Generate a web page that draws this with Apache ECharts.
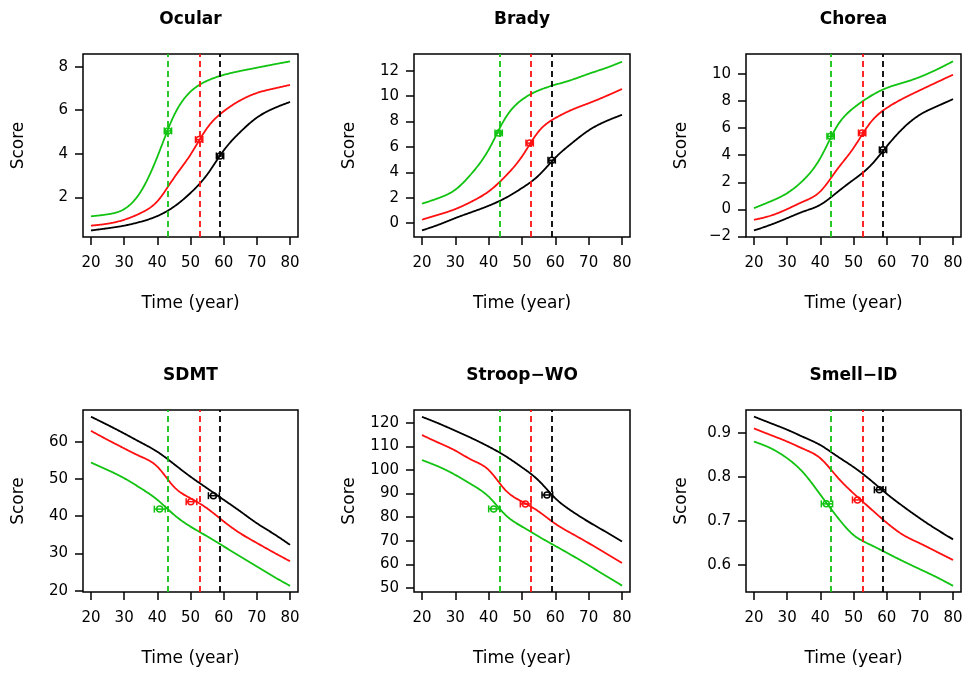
<!DOCTYPE html>
<html>
<head>
<meta charset="utf-8">
<script src="https://cdn.jsdelivr.net/npm/echarts@6/dist/echarts.min.js"></script>
<style>
html,body{margin:0;padding:0;background:#fff;}
#chart{width:968px;height:673px;}
</style>
</head>
<body>
<div id="chart"></div>
<script>
// ---------- data ----------
const years = [20, 25, 30, 35, 40, 45, 50, 55, 60, 65, 70, 75, 80];
const xTicks = [20, 30, 40, 50, 60, 70, 80];
const onsetYears = [43.2, 52.7, 58.9]; // green, red, black dashed lines

const panelTitles = ['Ocular', 'Brady', 'Chorea', 'SDMT', 'Stroop\u2212WO', 'Smell\u2212ID'];

const ocularGreen = [1.13, 1.22, 1.46, 2.26, 3.86, 5.75, 6.85, 7.35, 7.62, 7.80, 7.95, 8.10, 8.24];
const ocularRed   = [0.70, 0.79, 0.97, 1.28, 1.82, 2.89, 3.96, 5.18, 5.95, 6.45, 6.79, 6.99, 7.16];
const ocularBlack = [0.48, 0.58, 0.70, 0.88, 1.14, 1.57, 2.20, 3.04, 4.15, 5.00, 5.66, 6.08, 6.38];

const bradyGreen = [1.52, 1.97, 2.63, 3.94, 5.78, 8.27, 9.72, 10.45, 10.90, 11.29, 11.76, 12.20, 12.71];
const bradyRed   = [0.26, 0.66, 1.10, 1.71, 2.49, 3.68, 5.25, 7.22, 8.27, 8.93, 9.44, 9.98, 10.56];
const bradyBlack = [-0.58, -0.13, 0.39, 0.87, 1.36, 1.97, 2.76, 3.75, 5.15, 6.30, 7.30, 8.00, 8.53];

const choreaGreen = [0.09, 0.59, 1.20, 2.19, 3.79, 6.13, 7.49, 8.35, 8.97, 9.36, 9.78, 10.32, 10.94];
const choreaRed   = [-0.77, -0.47, 0.02, 0.59, 1.33, 2.93, 4.53, 6.38, 7.49, 8.20, 8.80, 9.38, 9.95];
const choreaBlack = [-1.56, -1.14, -0.65, -0.15, 0.34, 1.25, 2.19, 3.20, 4.65, 6.01, 6.99, 7.60, 8.15];

const sdmtGreen = [54.4, 52.4, 50.2, 47.5, 44.4, 40.4, 37.2, 34.6, 31.9, 29.2, 26.5, 23.8, 21.3];
const sdmtRed   = [62.9, 60.5, 58.2, 56.0, 53.3, 47.9, 44.8, 42.1, 38.6, 35.4, 32.8, 30.3, 27.9];
const sdmtBlack = [66.7, 64.5, 62.2, 59.8, 57.3, 54.0, 50.6, 47.5, 44.4, 41.3, 38.1, 35.3, 32.3];

const stroopGreen = [104.2, 101.4, 97.9, 93.7, 88.7, 81.0, 76.0, 71.8, 67.8, 63.8, 59.6, 55.3, 51.0];
const stroopRed   = [114.8, 111.5, 108.2, 104.2, 100.0, 91.5, 86.6, 82.4, 77.2, 73.0, 69.0, 64.8, 60.6];
const stroopBlack = [122.5, 119.7, 116.6, 113.4, 109.9, 105.9, 101.1, 95.5, 88.0, 82.5, 78.0, 73.9, 69.7];

const smellGreen = [0.881, 0.866, 0.843, 0.809, 0.760, 0.710, 0.668, 0.646, 0.627, 0.608, 0.590, 0.572, 0.552];
const smellRed   = [0.911, 0.896, 0.881, 0.864, 0.843, 0.801, 0.763, 0.729, 0.696, 0.668, 0.649, 0.630, 0.611];
const smellBlack = [0.938, 0.923, 0.908, 0.891, 0.873, 0.848, 0.823, 0.794, 0.762, 0.733, 0.706, 0.681, 0.658];

// markers: [x, y, xLow, xHigh] for green, red, black
const ocularMarkers = [[43.2, 5.05, 42.1, 44.3], [52.6, 4.65, 51.5, 53.7], [58.9, 3.90, 57.8, 60.0]];
const bradyMarkers  = [[43.0, 7.10, 41.9, 44.1], [52.3, 6.30, 51.2, 53.4], [58.9, 4.95, 57.8, 60.0]];
const choreaMarkers = [[43.1, 5.40, 42.0, 44.2], [52.6, 5.65, 51.5, 53.7], [58.9, 4.40, 57.8, 60.0]];
const sdmtMarkers   = [[40.7, 41.9, 39.1, 42.4], [50.1, 43.9, 48.7, 51.9], [56.9, 45.5, 55.4, 58.7]];
const stroopMarkers = [[41.5, 83.5, 40.0, 43.3], [51.0, 85.6, 49.5, 52.7], [57.5, 89.4, 56.0, 59.2]];
const smellMarkers  = [[41.8, 0.739, 40.3, 43.7], [51.2, 0.748, 49.7, 52.8], [57.8, 0.771, 56.3, 59.7]];

const ocularTicks = [2, 4, 6, 8];
const bradyTicks  = [0, 2, 4, 6, 8, 10, 12];
const choreaTicks = [-2, 0, 2, 4, 6, 8, 10];
const sdmtTicks   = [20, 30, 40, 50, 60];
const stroopTicks = [50, 60, 70, 80, 90, 100, 110, 120];
const smellTicks  = [0.6, 0.7, 0.8, 0.9];

// ---------- layout / style ----------
const panels = [
  {curves: [ocularGreen, ocularRed, ocularBlack], markers: ocularMarkers, ticks: ocularTicks, yRange: [0.18, 8.58]},
  {curves: [bradyGreen, bradyRed, bradyBlack], markers: bradyMarkers, ticks: bradyTicks, yRange: [-1.10, 13.32]},
  {curves: [choreaGreen, choreaRed, choreaBlack], markers: choreaMarkers, ticks: choreaTicks, yRange: [-2.04, 11.48]},
  {curves: [sdmtGreen, sdmtRed, sdmtBlack], markers: sdmtMarkers, ticks: sdmtTicks, yRange: [19.65, 68.5]},
  {curves: [stroopGreen, stroopRed, stroopBlack], markers: stroopMarkers, ticks: stroopTicks, yRange: [48.3, 125.4]},
  {curves: [smellGreen, smellRed, smellBlack], markers: smellMarkers, ticks: smellTicks, yRange: [0.538, 0.953]}
];
const colors = ['#12c312', '#ff1010', '#000000'];
const colLeft = [83, 414, 746];
const colWidth = [215, 216, 215];
const rowTop = [54, 410];
const rowHeight = [183, 182];
const FONT = 'DejaVu Sans';

// natural cubic spline through the read points (rendering only, like a smoothed line)
function splineCoefs(xs, ys) {
  const n = xs.length, h = [], alpha = [0], l = [1], mu = [0], z = [0];
  for (let i = 0; i < n - 1; i++) h.push(xs[i + 1] - xs[i]);
  for (let i = 1; i < n - 1; i++) alpha.push(3 / h[i] * (ys[i + 1] - ys[i]) - 3 / h[i - 1] * (ys[i] - ys[i - 1]));
  for (let i = 1; i < n - 1; i++) {
    l[i] = 2 * (xs[i + 1] - xs[i - 1]) - h[i - 1] * mu[i - 1];
    mu[i] = h[i] / l[i];
    z[i] = (alpha[i] - h[i - 1] * z[i - 1]) / l[i];
  }
  const c = new Array(n).fill(0), b = [], d = [];
  for (let j = n - 2; j >= 0; j--) {
    c[j] = z[j] - mu[j] * c[j + 1];
    b[j] = (ys[j + 1] - ys[j]) / h[j] - h[j] * (c[j + 1] + 2 * c[j]) / 3;
    d[j] = (c[j + 1] - c[j]) / (3 * h[j]);
  }
  return {b, c, d};
}
function splineAt(xs, ys, k, x) {
  let j = 0;
  while (j < xs.length - 2 && x > xs[j + 1]) j++;
  const dx = x - xs[j];
  return ys[j] + k.b[j] * dx + k.c[j] * dx * dx + k.d[j] * dx * dx * dx;
}

const grid = [], xAxis = [], yAxis = [], series = [], title = [];

panels.forEach((p, i) => {
  const col = i % 3, row = Math.floor(i / 3);
  grid.push({
    left: colLeft[col], top: rowTop[row], width: colWidth[col], height: rowHeight[row],
    containLabel: false, show: true, borderColor: '#000', borderWidth: 1.5, backgroundColor: 'transparent'
  });
  title.push({
    text: panelTitles[i], left: colLeft[col] + colWidth[col] / 2, top: rowTop[row] - 43,
    textAlign: 'center', padding: 0,
    textStyle: {fontFamily: FONT, fontWeight: 'bold', fontSize: 17, color: '#000'}
  });
  xAxis.push({
    gridIndex: i, type: 'value', min: 17.6, max: 82.4,
    axisLine: {show: false, onZero: false},
    axisTick: {show: true, inside: false, length: 8, customValues: xTicks, lineStyle: {color: '#000', width: 1.5}},
    axisLabel: {customValues: xTicks, margin: 19, fontSize: 15, fontFamily: FONT, color: '#000'},
    splitLine: {show: false},
    name: 'Time (year)', nameLocation: 'middle', nameGap: 58,
    nameTextStyle: {fontSize: 17, fontFamily: FONT, color: '#000'}
  });
  yAxis.push({
    gridIndex: i, type: 'value', min: p.yRange[0], max: p.yRange[1],
    axisLine: {show: false, onZero: false},
    axisTick: {show: true, inside: false, length: 8, customValues: p.ticks, lineStyle: {color: '#000', width: 1.5}},
    axisLabel: {
      customValues: p.ticks, margin: 15, fontSize: 15, fontFamily: FONT, color: '#000',
      formatter: v => (v < 0 ? '\u2212' + Math.abs(v) : String(v))
    },
    splitLine: {show: false},
    name: 'Score', nameLocation: 'middle', nameGap: 56, nameRotate: 90,
    nameTextStyle: {fontSize: 17, fontFamily: FONT, color: '#000'}
  });
  p.curves.forEach((arr, k) => {
    const coefs = splineCoefs(years, arr);
    const s = {
      type: 'custom', xAxisIndex: i, yAxisIndex: i, silent: true, z: 3,
      data: years.map((y, j) => [y, arr[j]]),
      encode: {x: 0, y: 1},
      renderItem: (params, api) => {
        if (params.dataIndex !== 0) return null;
        const pts = [];
        const x0 = years[0], x1 = years[years.length - 1];
        for (let x = x0; x <= x1 + 1e-9; x += 0.25) {
          pts.push(api.coord([x, splineAt(years, arr, coefs, x)]));
        }
        return {
          type: 'polyline', shape: {points: pts},
          style: {stroke: colors[k], lineWidth: 1.8, fill: 'none'}
        };
      }
    };
    series.push(s);
  });
  // dashed onset lines
  series.push({
    type: 'line', xAxisIndex: i, yAxisIndex: i, data: [], silent: true,
    markLine: {
      silent: true, symbol: ['none', 'none'], label: {show: false}, animation: false,
      data: onsetYears.map((x, m) => ({xAxis: x, lineStyle: {color: colors[m], type: [6, 4], width: 1.8}}))
    }
  });
  series.push({
    type: 'custom', xAxisIndex: i, yAxisIndex: i, data: p.markers, z: 5, silent: true,
    encode: {x: 0, y: 1},
    renderItem: (params, api) => {
      const y = api.value(1);
      const c = api.coord([api.value(0), y]);
      const lo = api.coord([api.value(2), y]);
      const hi = api.coord([api.value(3), y]);
      const st = {stroke: colors[params.dataIndex], lineWidth: 1.5, fill: 'transparent'};
      return {
        type: 'group', children: [
          {type: 'line', shape: {x1: lo[0], y1: c[1], x2: hi[0], y2: c[1]}, style: st},
          {type: 'line', shape: {x1: lo[0], y1: c[1] - 3.5, x2: lo[0], y2: c[1] + 3.5}, style: st},
          {type: 'line', shape: {x1: hi[0], y1: c[1] - 3.5, x2: hi[0], y2: c[1] + 3.5}, style: st},
          {type: 'circle', shape: {cx: c[0], cy: c[1], r: 3}, style: st}
        ]
      };
    }
  });
});

const chart = echarts.init(document.getElementById('chart'), null, {renderer: 'canvas'});
chart.setOption({
  animation: false,
  backgroundColor: '#fff',
  title, grid, xAxis, yAxis, series
});
</script>
</body>
</html>
